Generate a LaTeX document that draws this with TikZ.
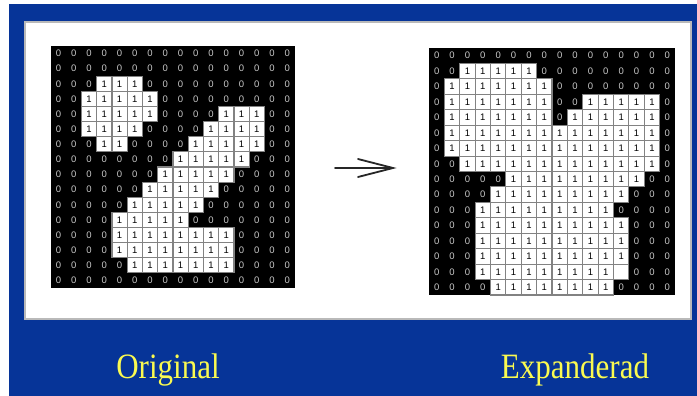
\documentclass[tikz,border=0pt]{standalone}
\usepackage{fontspec}
\setmainfont{Liberation Serif}
\newfontfamily\digitfont{Liberation Sans}
\definecolor{bgblue}{RGB}{6,52,152}
\definecolor{labelyellow}{RGB}{250,250,80}
\definecolor{zerogray}{RGB}{200,200,200}
\definecolor{cellline}{RGB}{130,130,130}
\tikzset{
  zerotxt/.style={text=zerogray, inner sep=0pt, font=\digitfont\fontsize{9.5}{9.5}\selectfont},
  onecell/.style={fill=white, draw=cellline, line width=1.1pt, inner sep=0pt, outer sep=0pt,
    text=black, font=\digitfont\fontsize{9.5}{9.5}\selectfont},
  arrowline/.style={draw=black!85, line width=1.8pt, line cap=round},
  lab/.style={text=labelyellow, inner sep=0pt, yscale=1.15, font=\fontsize{31}{31}\selectfont},
}
\newcommand\mygrid[6]{%
  \fill[black] (#2,#3) rectangle ++(16*#4,16*#5);
  \foreach \rowlist [count=\rr from 0] in {#6} {
    \foreach \v [count=\cc from 0] in \rowlist {
      \pgfmathsetmacro\cx{#2+(\cc+0.5)*#4}
      \pgfmathsetmacro\cy{#3+(\rr+0.5)*#5}
      \ifnum\v=0
        \node[zerotxt] (#1-\rr-\cc) at (\cx,\cy) {0};
      \else
        \node[onecell, minimum width=#4pt, minimum height=#5pt] (#1-\rr-\cc) at (\cx,\cy) {\ifnum\v=1 1\fi};
      \fi
    }
  }
}
\begin{document}
\begin{tikzpicture}[x=1pt,y=-1pt]
\useasboundingbox (0,0) rectangle (697,396);
\fill[white] (0,0) rectangle (697,396);
\fill[bgblue] (9,4) rectangle (697,396);
\fill[white, draw=gray!55, line width=2pt] (25,22) rectangle (691,319);

\mygrid{L}{51}{46}{15.25}{15.125}{
{0,0,0,0,0,0,0,0,0,0,0,0,0,0,0,0},
{0,0,0,0,0,0,0,0,0,0,0,0,0,0,0,0},
{0,0,0,1,1,1,0,0,0,0,0,0,0,0,0,0},
{0,0,1,1,1,1,1,0,0,0,0,0,0,0,0,0},
{0,0,1,1,1,1,1,0,0,0,0,1,1,1,0,0},
{0,0,1,1,1,1,0,0,0,0,1,1,1,1,0,0},
{0,0,0,1,1,0,0,0,0,1,1,1,1,1,0,0},
{0,0,0,0,0,0,0,0,1,1,1,1,1,0,0,0},
{0,0,0,0,0,0,0,1,1,1,1,1,0,0,0,0},
{0,0,0,0,0,0,1,1,1,1,1,0,0,0,0,0},
{0,0,0,0,0,1,1,1,1,1,0,0,0,0,0,0},
{0,0,0,0,1,1,1,1,1,0,0,0,0,0,0,0},
{0,0,0,0,1,1,1,1,1,1,1,1,0,0,0,0},
{0,0,0,0,1,1,1,1,1,1,1,1,0,0,0,0},
{0,0,0,0,0,1,1,1,1,1,1,1,0,0,0,0},
{0,0,0,0,0,0,0,0,0,0,0,0,0,0,0,0}}

\mygrid{R}{429}{48}{15.375}{15.4375}{
{0,0,0,0,0,0,0,0,0,0,0,0,0,0,0,0},
{0,0,1,1,1,1,1,0,0,0,0,0,0,0,0,0},
{0,1,1,1,1,1,1,1,0,0,0,0,0,0,0,0},
{0,1,1,1,1,1,1,1,0,0,1,1,1,1,1,0},
{0,1,1,1,1,1,1,1,0,1,1,1,1,1,1,0},
{0,1,1,1,1,1,1,1,1,1,1,1,1,1,1,0},
{0,1,1,1,1,1,1,1,1,1,1,1,1,1,1,0},
{0,0,1,1,1,1,1,1,1,1,1,1,1,1,1,0},
{0,0,0,0,0,1,1,1,1,1,1,1,1,1,0,0},
{0,0,0,0,1,1,1,1,1,1,1,1,1,0,0,0},
{0,0,0,1,1,1,1,1,1,1,1,1,0,0,0,0},
{0,0,0,1,1,1,1,1,1,1,1,1,1,0,0,0},
{0,0,0,1,1,1,1,1,1,1,1,1,1,0,0,0},
{0,0,0,1,1,1,1,1,1,1,1,1,1,0,0,0},
{0,0,0,1,1,1,1,1,1,1,1,1,2,0,0,0},
{0,0,0,0,1,1,1,1,1,1,1,1,0,0,0,0}}

\coordinate (arrS) at (335,168);
\coordinate (arrT) at (393,168);
\coordinate (arrU) at (358,159);
\coordinate (arrD) at (358,177);
\draw[arrowline] (arrS) -- (arrT);
\draw[arrowline] (arrU) -- (arrT) -- (arrD);

\node[lab] (orig) at (168,370) {Original};
\node[lab] (expd) at (575,370) {Expanderad};
\end{tikzpicture}
\end{document}
